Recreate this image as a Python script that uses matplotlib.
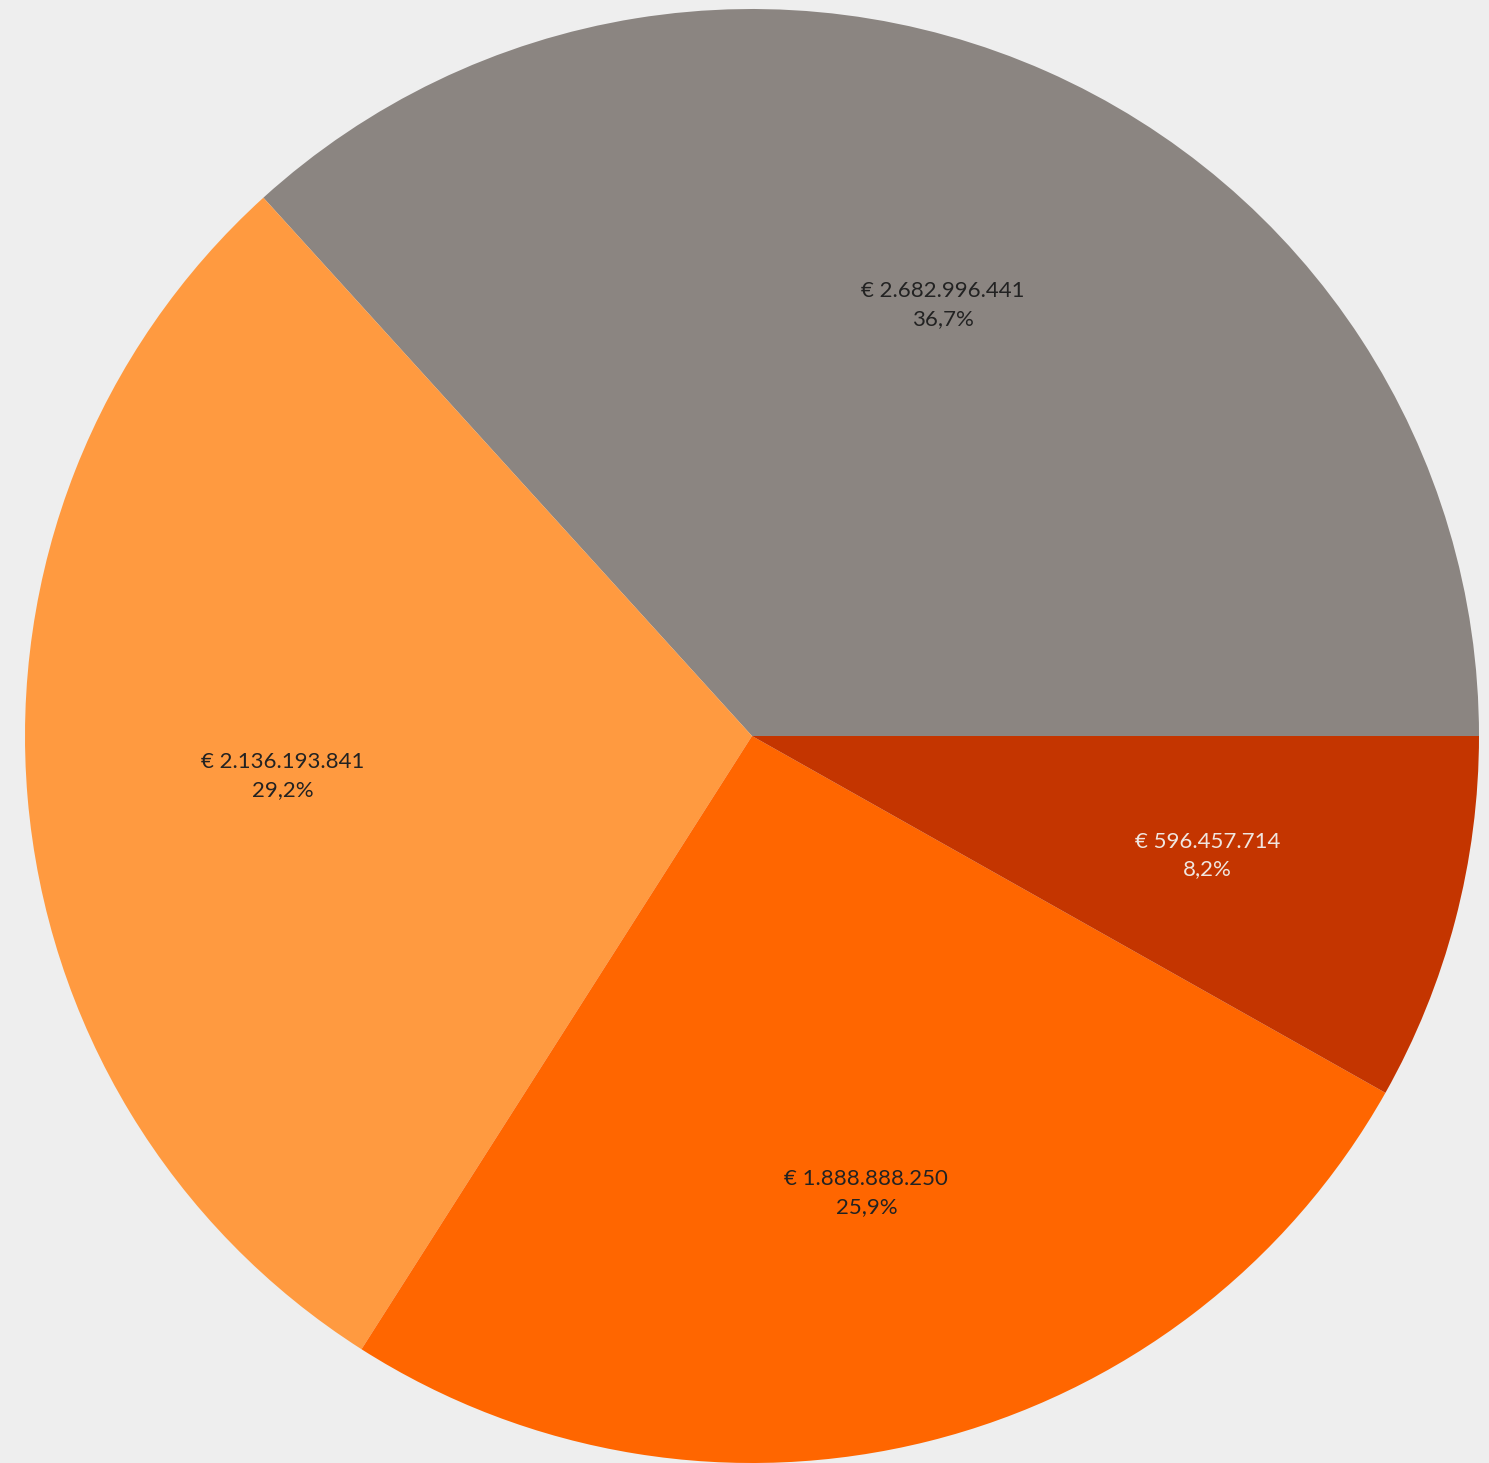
import matplotlib.pyplot as plt

values = [2682996441, 2136193841, 1888888250, 596457714]
value_labels = ['€ 2.682.996.441', '€ 2.136.193.841', '€ 1.888.888.250', '€ 596.457.714']
pct_labels = ['36,7%', '29,2%', '25,9%', '8,2%']
colors = ['#8b8581', '#ff9a40', '#ff6600', '#c43500']
text_colors = ['#222222', '#222222', '#222222', '#f0e6e0']

plt.rcParams['font.family'] = ['Lato', 'DejaVu Sans']

fig = plt.figure(figsize=(14.89, 14.63), dpi=100, facecolor='#eeeeee')
ax = fig.add_axes([25 / 1489, 0, 1454 / 1489, 1454 / 1463])
ax.set_facecolor('#eeeeee')

wedges, texts = ax.pie(values, colors=colors, startangle=0, counterclock=True,
                       labels=[v + '\n' + p for v, p in zip(value_labels, pct_labels)],
                       labeldistance=0.648, radius=1.0,
                       wedgeprops={'linewidth': 0})
for t, c in zip(texts, text_colors):
    t.set_color(c)
    t.set_fontsize(16)
    t.set_ha('center')
    t.set_va('center')
    t.set_linespacing(1.5)

ax.set_xlim(-1, 1)
ax.set_ylim(-1, 1)
ax.set_aspect('equal')
ax.axis('off')

fig.savefig('out.png', dpi=100, facecolor='#eeeeee')
